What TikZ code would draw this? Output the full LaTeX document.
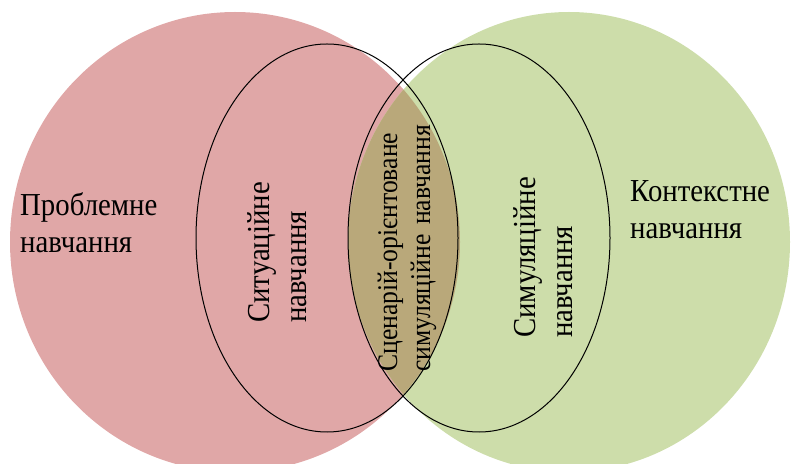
\documentclass[tikz,border=0pt]{standalone}
\usepackage{fontspec}
\setmainfont{Liberation Serif}[FakeStretch=0.9]
\usepackage{tikz}
\definecolor{vnpink}{RGB}{224,167,167}
\definecolor{vngreen}{RGB}{205,221,170}
\definecolor{vnolive}{RGB}{185,168,122}

\begin{document}
\begin{tikzpicture}[x=1pt,y=1pt,
    biglabel/.style={font=\fontsize{32}{37}\selectfont, inner sep=0pt, align=left},
    midlabel/.style={font=\fontsize{28.5}{33}\selectfont, inner sep=0pt, align=left, text width=247pt},
    outline/.style={draw=black, line width=1pt}]
\useasboundingbox (0,0) rectangle (792,463);
\clip (0,0) rectangle (792,463);

% Two big coloured fields
\fill[vnpink] (235,221) ellipse [x radius=225, y radius=230];
\fill[vngreen] (569,221) ellipse [x radius=221, y radius=230];
% Overlap of the two fields
\begin{scope}
\clip (235,221) ellipse [x radius=225, y radius=230];
\fill[vnolive] (569,221) ellipse [x radius=221, y radius=230];
\end{scope}

% Inner outlined ellipses
\draw[outline] (327,225) ellipse [x radius=131, y radius=194];
\draw[outline] (479,225) ellipse [x radius=131, y radius=194];

% Labels
\node[biglabel, anchor=west] (problem) at (20,240) {Проблемне\\навчання};
\node[biglabel, anchor=west] (context) at (630,253) {Контекстне\\навчання};
\node[biglabel, anchor=west, rotate=90] (situation) at (277,140) {Ситуаційне\\навчання};
\node[biglabel, anchor=west, rotate=90] (simulation) at (543,125) {Симуляційне\\навчання};
\node[midlabel, anchor=west, rotate=90] (scenario) at (407,91)
    {Сценарій-орієнтоване\\\makebox[\linewidth][s]{симуляційне навчання}};
\end{tikzpicture}
\end{document}
